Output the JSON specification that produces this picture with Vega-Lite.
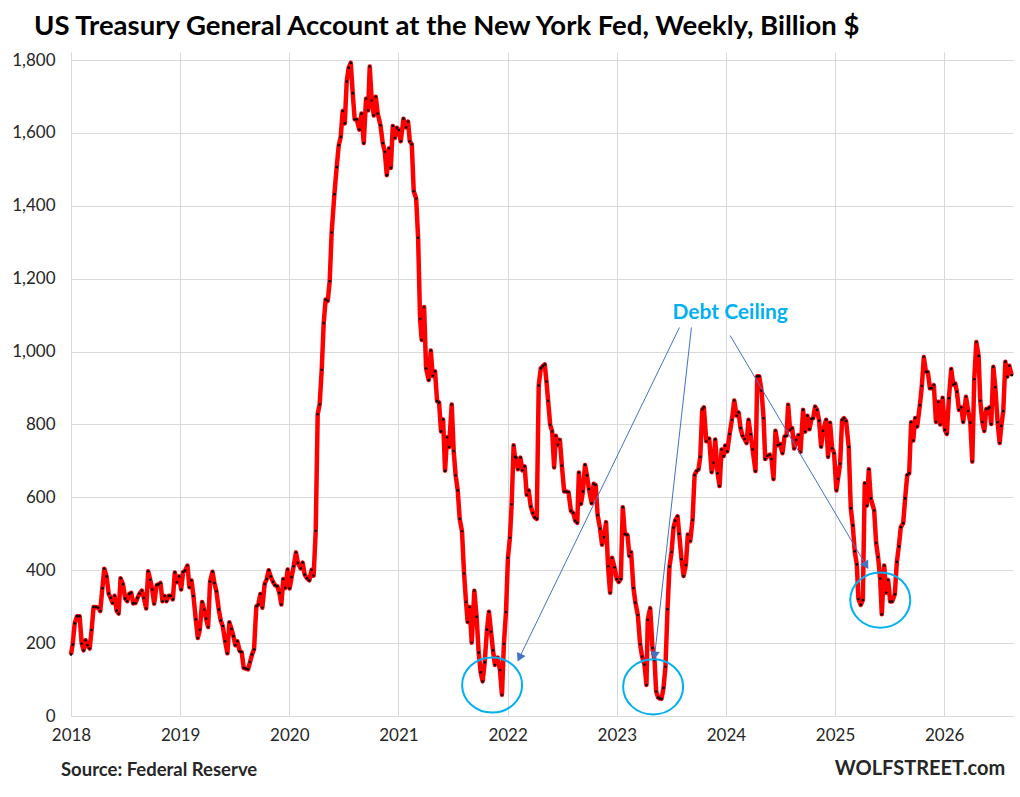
{
  "$schema": "https://vega.github.io/schema/vega-lite/v6.json",
  "background": "white",
  "width": 942,
  "height": 664,
  "autosize": {"type": "none"},
  "padding": {"left": 71, "top": 52, "right": 7, "bottom": 81},
  "title": {
    "text": "US Treasury General Account at the New York Fed, Weekly, Billion $",
    "anchor": "start",
    "frame": "group",
    "dx": -37,
    "offset": 11,
    "font": "Lato",
    "fontSize": 27.5,
    "fontWeight": "bold",
    "color": "#000000"
  },
  "datasets": {
    "tga": [
      {"year": 2018.000, "value": 169}, {"year": 2018.015, "value": 196}, {"year": 2018.034, "value": 254}, {"year": 2018.055, "value": 274},
      {"year": 2018.079, "value": 274}, {"year": 2018.098, "value": 199}, {"year": 2018.116, "value": 180}, {"year": 2018.134, "value": 208},
      {"year": 2018.152, "value": 194}, {"year": 2018.171, "value": 185}, {"year": 2018.189, "value": 236}, {"year": 2018.207, "value": 299},
      {"year": 2018.229, "value": 299}, {"year": 2018.250, "value": 297}, {"year": 2018.268, "value": 288}, {"year": 2018.287, "value": 350},
      {"year": 2018.305, "value": 404}, {"year": 2018.326, "value": 383}, {"year": 2018.345, "value": 336}, {"year": 2018.363, "value": 324},
      {"year": 2018.381, "value": 310}, {"year": 2018.399, "value": 330}, {"year": 2018.418, "value": 289}, {"year": 2018.436, "value": 281},
      {"year": 2018.454, "value": 378}, {"year": 2018.476, "value": 362}, {"year": 2018.497, "value": 322}, {"year": 2018.515, "value": 315},
      {"year": 2018.534, "value": 335}, {"year": 2018.552, "value": 338}, {"year": 2018.570, "value": 309}, {"year": 2018.591, "value": 310},
      {"year": 2018.610, "value": 324}, {"year": 2018.628, "value": 336}, {"year": 2018.649, "value": 344}, {"year": 2018.668, "value": 324},
      {"year": 2018.689, "value": 295}, {"year": 2018.707, "value": 397}, {"year": 2018.726, "value": 374}, {"year": 2018.744, "value": 347},
      {"year": 2018.762, "value": 308}, {"year": 2018.784, "value": 359}, {"year": 2018.802, "value": 361}, {"year": 2018.820, "value": 365},
      {"year": 2018.838, "value": 315}, {"year": 2018.857, "value": 329}, {"year": 2018.875, "value": 315}, {"year": 2018.896, "value": 330},
      {"year": 2018.915, "value": 330}, {"year": 2018.933, "value": 320}, {"year": 2018.951, "value": 394}, {"year": 2018.970, "value": 367},
      {"year": 2018.991, "value": 383}, {"year": 2019.009, "value": 347}, {"year": 2019.027, "value": 395}, {"year": 2019.046, "value": 399},
      {"year": 2019.067, "value": 413}, {"year": 2019.085, "value": 353}, {"year": 2019.104, "value": 372}, {"year": 2019.122, "value": 329},
      {"year": 2019.143, "value": 265}, {"year": 2019.162, "value": 214}, {"year": 2019.180, "value": 237}, {"year": 2019.201, "value": 313},
      {"year": 2019.220, "value": 292}, {"year": 2019.238, "value": 267}, {"year": 2019.256, "value": 244}, {"year": 2019.274, "value": 369},
      {"year": 2019.296, "value": 396}, {"year": 2019.314, "value": 365}, {"year": 2019.332, "value": 342}, {"year": 2019.354, "value": 292},
      {"year": 2019.372, "value": 262}, {"year": 2019.390, "value": 247}, {"year": 2019.412, "value": 205}, {"year": 2019.433, "value": 172},
      {"year": 2019.451, "value": 257}, {"year": 2019.470, "value": 239}, {"year": 2019.488, "value": 219}, {"year": 2019.506, "value": 194},
      {"year": 2019.524, "value": 205}, {"year": 2019.546, "value": 178}, {"year": 2019.564, "value": 175}, {"year": 2019.582, "value": 132},
      {"year": 2019.601, "value": 130}, {"year": 2019.622, "value": 128}, {"year": 2019.640, "value": 148}, {"year": 2019.659, "value": 169},
      {"year": 2019.677, "value": 183}, {"year": 2019.698, "value": 301}, {"year": 2019.716, "value": 306}, {"year": 2019.735, "value": 335},
      {"year": 2019.753, "value": 297}, {"year": 2019.774, "value": 362}, {"year": 2019.793, "value": 376}, {"year": 2019.811, "value": 400},
      {"year": 2019.829, "value": 383}, {"year": 2019.851, "value": 368}, {"year": 2019.869, "value": 359}, {"year": 2019.890, "value": 356},
      {"year": 2019.909, "value": 338}, {"year": 2019.927, "value": 306}, {"year": 2019.945, "value": 376}, {"year": 2019.963, "value": 351},
      {"year": 2019.985, "value": 402}, {"year": 2020.003, "value": 350}, {"year": 2020.021, "value": 381}, {"year": 2020.040, "value": 411},
      {"year": 2020.061, "value": 449}, {"year": 2020.079, "value": 420}, {"year": 2020.104, "value": 405}, {"year": 2020.122, "value": 421},
      {"year": 2020.141, "value": 388}, {"year": 2020.162, "value": 378}, {"year": 2020.183, "value": 372}, {"year": 2020.205, "value": 401},
      {"year": 2020.223, "value": 385}, {"year": 2020.242, "value": 508}, {"year": 2020.260, "value": 828}, {"year": 2020.278, "value": 855},
      {"year": 2020.297, "value": 950}, {"year": 2020.315, "value": 1078}, {"year": 2020.333, "value": 1143}, {"year": 2020.352, "value": 1139},
      {"year": 2020.370, "value": 1193}, {"year": 2020.388, "value": 1327}, {"year": 2020.413, "value": 1432}, {"year": 2020.434, "value": 1506},
      {"year": 2020.453, "value": 1566}, {"year": 2020.471, "value": 1589}, {"year": 2020.489, "value": 1660}, {"year": 2020.508, "value": 1626},
      {"year": 2020.526, "value": 1741}, {"year": 2020.544, "value": 1779}, {"year": 2020.563, "value": 1792}, {"year": 2020.581, "value": 1709},
      {"year": 2020.599, "value": 1637}, {"year": 2020.618, "value": 1637}, {"year": 2020.642, "value": 1609}, {"year": 2020.661, "value": 1653},
      {"year": 2020.682, "value": 1572}, {"year": 2020.703, "value": 1694}, {"year": 2020.722, "value": 1662}, {"year": 2020.737, "value": 1782},
      {"year": 2020.755, "value": 1689}, {"year": 2020.774, "value": 1648}, {"year": 2020.792, "value": 1699}, {"year": 2020.810, "value": 1653},
      {"year": 2020.835, "value": 1621}, {"year": 2020.856, "value": 1572}, {"year": 2020.875, "value": 1548}, {"year": 2020.893, "value": 1484},
      {"year": 2020.914, "value": 1558}, {"year": 2020.930, "value": 1504}, {"year": 2020.948, "value": 1619}, {"year": 2020.966, "value": 1586},
      {"year": 2020.985, "value": 1614}, {"year": 2021.003, "value": 1608}, {"year": 2021.021, "value": 1577}, {"year": 2021.046, "value": 1639},
      {"year": 2021.070, "value": 1615}, {"year": 2021.088, "value": 1631}, {"year": 2021.104, "value": 1577}, {"year": 2021.122, "value": 1569},
      {"year": 2021.140, "value": 1440}, {"year": 2021.162, "value": 1420}, {"year": 2021.180, "value": 1312}, {"year": 2021.198, "value": 1090},
      {"year": 2021.213, "value": 1032}, {"year": 2021.235, "value": 1122}, {"year": 2021.253, "value": 954}, {"year": 2021.277, "value": 922},
      {"year": 2021.296, "value": 1003}, {"year": 2021.314, "value": 933}, {"year": 2021.335, "value": 946}, {"year": 2021.354, "value": 864},
      {"year": 2021.372, "value": 860}, {"year": 2021.390, "value": 781}, {"year": 2021.409, "value": 814}, {"year": 2021.427, "value": 673},
      {"year": 2021.445, "value": 765}, {"year": 2021.463, "value": 738}, {"year": 2021.488, "value": 855}, {"year": 2021.506, "value": 727},
      {"year": 2021.524, "value": 660}, {"year": 2021.543, "value": 619}, {"year": 2021.561, "value": 541}, {"year": 2021.582, "value": 507},
      {"year": 2021.601, "value": 391}, {"year": 2021.619, "value": 313}, {"year": 2021.634, "value": 258}, {"year": 2021.652, "value": 299},
      {"year": 2021.671, "value": 201}, {"year": 2021.695, "value": 344}, {"year": 2021.716, "value": 272}, {"year": 2021.735, "value": 174},
      {"year": 2021.753, "value": 120}, {"year": 2021.771, "value": 95}, {"year": 2021.790, "value": 147}, {"year": 2021.811, "value": 237},
      {"year": 2021.829, "value": 286}, {"year": 2021.848, "value": 231}, {"year": 2021.866, "value": 180}, {"year": 2021.884, "value": 140},
      {"year": 2021.909, "value": 160}, {"year": 2021.930, "value": 126}, {"year": 2021.948, "value": 58}, {"year": 2021.966, "value": 198},
      {"year": 2021.985, "value": 285}, {"year": 2022.003, "value": 434}, {"year": 2022.021, "value": 489}, {"year": 2022.037, "value": 581},
      {"year": 2022.055, "value": 743}, {"year": 2022.067, "value": 711}, {"year": 2022.077, "value": 709}, {"year": 2022.095, "value": 677},
      {"year": 2022.117, "value": 709}, {"year": 2022.135, "value": 674}, {"year": 2022.156, "value": 685}, {"year": 2022.175, "value": 607},
      {"year": 2022.193, "value": 619}, {"year": 2022.212, "value": 575}, {"year": 2022.230, "value": 557}, {"year": 2022.248, "value": 545},
      {"year": 2022.267, "value": 541}, {"year": 2022.285, "value": 907}, {"year": 2022.304, "value": 954}, {"year": 2022.322, "value": 960},
      {"year": 2022.340, "value": 965}, {"year": 2022.356, "value": 918}, {"year": 2022.371, "value": 865}, {"year": 2022.390, "value": 799},
      {"year": 2022.408, "value": 781}, {"year": 2022.426, "value": 682}, {"year": 2022.442, "value": 769}, {"year": 2022.460, "value": 744},
      {"year": 2022.479, "value": 758}, {"year": 2022.497, "value": 687}, {"year": 2022.518, "value": 616}, {"year": 2022.537, "value": 616},
      {"year": 2022.558, "value": 614}, {"year": 2022.580, "value": 563}, {"year": 2022.601, "value": 557}, {"year": 2022.620, "value": 536},
      {"year": 2022.638, "value": 530}, {"year": 2022.653, "value": 668}, {"year": 2022.672, "value": 582}, {"year": 2022.690, "value": 616},
      {"year": 2022.709, "value": 689}, {"year": 2022.727, "value": 660}, {"year": 2022.745, "value": 623}, {"year": 2022.770, "value": 584},
      {"year": 2022.788, "value": 637}, {"year": 2022.807, "value": 634}, {"year": 2022.825, "value": 551}, {"year": 2022.847, "value": 514},
      {"year": 2022.865, "value": 470}, {"year": 2022.883, "value": 490}, {"year": 2022.902, "value": 532}, {"year": 2022.920, "value": 411},
      {"year": 2022.939, "value": 338}, {"year": 2022.957, "value": 434}, {"year": 2022.979, "value": 408}, {"year": 2023.000, "value": 376},
      {"year": 2023.018, "value": 368}, {"year": 2023.037, "value": 376}, {"year": 2023.055, "value": 573}, {"year": 2023.074, "value": 499},
      {"year": 2023.098, "value": 497}, {"year": 2023.116, "value": 439}, {"year": 2023.131, "value": 450}, {"year": 2023.153, "value": 351},
      {"year": 2023.171, "value": 311}, {"year": 2023.193, "value": 277}, {"year": 2023.214, "value": 197}, {"year": 2023.232, "value": 163},
      {"year": 2023.254, "value": 141}, {"year": 2023.272, "value": 85}, {"year": 2023.284, "value": 264}, {"year": 2023.306, "value": 296},
      {"year": 2023.327, "value": 187}, {"year": 2023.346, "value": 153}, {"year": 2023.361, "value": 67}, {"year": 2023.379, "value": 51},
      {"year": 2023.394, "value": 48}, {"year": 2023.410, "value": 47}, {"year": 2023.428, "value": 77}, {"year": 2023.446, "value": 135},
      {"year": 2023.465, "value": 293}, {"year": 2023.483, "value": 410}, {"year": 2023.502, "value": 450}, {"year": 2023.520, "value": 517},
      {"year": 2023.535, "value": 536}, {"year": 2023.557, "value": 548}, {"year": 2023.572, "value": 500}, {"year": 2023.593, "value": 430},
      {"year": 2023.612, "value": 384}, {"year": 2023.633, "value": 414}, {"year": 2023.651, "value": 498}, {"year": 2023.673, "value": 480},
      {"year": 2023.694, "value": 538}, {"year": 2023.713, "value": 661}, {"year": 2023.731, "value": 672}, {"year": 2023.749, "value": 677},
      {"year": 2023.765, "value": 711}, {"year": 2023.783, "value": 841}, {"year": 2023.798, "value": 847}, {"year": 2023.820, "value": 754},
      {"year": 2023.847, "value": 761}, {"year": 2023.869, "value": 669}, {"year": 2023.887, "value": 695}, {"year": 2023.902, "value": 759},
      {"year": 2023.924, "value": 666}, {"year": 2023.942, "value": 631}, {"year": 2023.960, "value": 731}, {"year": 2023.979, "value": 713},
      {"year": 2023.994, "value": 742}, {"year": 2024.012, "value": 726}, {"year": 2024.034, "value": 774}, {"year": 2024.055, "value": 813},
      {"year": 2024.076, "value": 866}, {"year": 2024.098, "value": 824}, {"year": 2024.116, "value": 833}, {"year": 2024.134, "value": 790},
      {"year": 2024.152, "value": 769}, {"year": 2024.171, "value": 760}, {"year": 2024.189, "value": 749}, {"year": 2024.207, "value": 813},
      {"year": 2024.226, "value": 773}, {"year": 2024.244, "value": 732}, {"year": 2024.271, "value": 672}, {"year": 2024.287, "value": 932},
      {"year": 2024.305, "value": 932}, {"year": 2024.326, "value": 893}, {"year": 2024.345, "value": 817}, {"year": 2024.360, "value": 705},
      {"year": 2024.381, "value": 714}, {"year": 2024.402, "value": 717}, {"year": 2024.418, "value": 705}, {"year": 2024.436, "value": 650},
      {"year": 2024.454, "value": 783}, {"year": 2024.476, "value": 743}, {"year": 2024.497, "value": 746}, {"year": 2024.518, "value": 721},
      {"year": 2024.537, "value": 767}, {"year": 2024.555, "value": 769}, {"year": 2024.570, "value": 854}, {"year": 2024.588, "value": 785},
      {"year": 2024.607, "value": 790}, {"year": 2024.625, "value": 734}, {"year": 2024.643, "value": 757}, {"year": 2024.665, "value": 771},
      {"year": 2024.683, "value": 725}, {"year": 2024.707, "value": 840}, {"year": 2024.726, "value": 780}, {"year": 2024.747, "value": 824},
      {"year": 2024.765, "value": 787}, {"year": 2024.784, "value": 815}, {"year": 2024.799, "value": 817}, {"year": 2024.817, "value": 849},
      {"year": 2024.835, "value": 840}, {"year": 2024.854, "value": 810}, {"year": 2024.872, "value": 739}, {"year": 2024.890, "value": 783},
      {"year": 2024.918, "value": 813}, {"year": 2024.936, "value": 711}, {"year": 2024.954, "value": 805}, {"year": 2024.973, "value": 735},
      {"year": 2024.991, "value": 721}, {"year": 2025.012, "value": 619}, {"year": 2025.027, "value": 651}, {"year": 2025.046, "value": 692},
      {"year": 2025.064, "value": 812}, {"year": 2025.082, "value": 817}, {"year": 2025.101, "value": 809}, {"year": 2025.125, "value": 738},
      {"year": 2025.144, "value": 570}, {"year": 2025.162, "value": 523}, {"year": 2025.180, "value": 452}, {"year": 2025.199, "value": 416},
      {"year": 2025.214, "value": 321}, {"year": 2025.235, "value": 305}, {"year": 2025.254, "value": 318}, {"year": 2025.272, "value": 639},
      {"year": 2025.291, "value": 577}, {"year": 2025.309, "value": 677}, {"year": 2025.327, "value": 597}, {"year": 2025.358, "value": 564},
      {"year": 2025.376, "value": 475}, {"year": 2025.394, "value": 436}, {"year": 2025.413, "value": 377}, {"year": 2025.428, "value": 279},
      {"year": 2025.450, "value": 413}, {"year": 2025.468, "value": 338}, {"year": 2025.486, "value": 373}, {"year": 2025.505, "value": 314},
      {"year": 2025.523, "value": 314}, {"year": 2025.547, "value": 334}, {"year": 2025.566, "value": 423}, {"year": 2025.584, "value": 465},
      {"year": 2025.602, "value": 518}, {"year": 2025.624, "value": 529}, {"year": 2025.642, "value": 597}, {"year": 2025.661, "value": 661},
      {"year": 2025.679, "value": 666}, {"year": 2025.697, "value": 806}, {"year": 2025.716, "value": 756}, {"year": 2025.734, "value": 818},
      {"year": 2025.752, "value": 794}, {"year": 2025.777, "value": 853}, {"year": 2025.795, "value": 906}, {"year": 2025.813, "value": 985},
      {"year": 2025.832, "value": 945}, {"year": 2025.850, "value": 944}, {"year": 2025.869, "value": 899}, {"year": 2025.887, "value": 899},
      {"year": 2025.905, "value": 908}, {"year": 2025.924, "value": 807}, {"year": 2025.945, "value": 862}, {"year": 2025.963, "value": 800},
      {"year": 2025.985, "value": 873}, {"year": 2026.006, "value": 785}, {"year": 2026.024, "value": 774}, {"year": 2026.043, "value": 872},
      {"year": 2026.064, "value": 952}, {"year": 2026.083, "value": 909}, {"year": 2026.101, "value": 912}, {"year": 2026.116, "value": 890},
      {"year": 2026.135, "value": 840}, {"year": 2026.156, "value": 847}, {"year": 2026.174, "value": 807}, {"year": 2026.199, "value": 876},
      {"year": 2026.220, "value": 837}, {"year": 2026.239, "value": 805}, {"year": 2026.257, "value": 698}, {"year": 2026.275, "value": 924},
      {"year": 2026.294, "value": 1026}, {"year": 2026.315, "value": 988}, {"year": 2026.330, "value": 865}, {"year": 2026.349, "value": 807},
      {"year": 2026.367, "value": 782}, {"year": 2026.385, "value": 842}, {"year": 2026.404, "value": 844}, {"year": 2026.416, "value": 847},
      {"year": 2026.431, "value": 801}, {"year": 2026.450, "value": 958}, {"year": 2026.468, "value": 902}, {"year": 2026.489, "value": 806},
      {"year": 2026.508, "value": 749}, {"year": 2026.523, "value": 796}, {"year": 2026.541, "value": 837}, {"year": 2026.560, "value": 972},
      {"year": 2026.578, "value": 931}, {"year": 2026.596, "value": 961}, {"year": 2026.618, "value": 935}
    ],
    "circles": [
      {"year": 2021.858, "value": 85},
      {"year": 2023.333, "value": 80},
      {"year": 2025.414, "value": 318}
    ],
    "arrows": [
      {"id": "a", "year": 2023.574, "value": 1066, "year2": 2022.108, "value2": 160},
      {"id": "b", "year": 2023.684, "value": 1066, "year2": 2023.347, "value2": 166},
      {"id": "c", "year": 2024.039, "value": 1044, "year2": 2025.285, "value2": 413}
    ]
  },
  "encoding": {
    "x": {
      "field": "year",
      "type": "quantitative",
      "scale": {"domain": [2018, 2026.63], "nice": false, "zero": false},
      "axis": {
        "values": [2018, 2019, 2020, 2021, 2022, 2023, 2024, 2025, 2026],
        "format": "d",
        "title": null,
        "grid": true,
        "gridColor": "#d9d9d9",
        "ticks": false,
        "domain": false,
        "labelFlush": false,
        "labelFont": "Lato",
        "labelFontSize": 17,
        "labelColor": "#262626",
        "labelPadding": 11
      }
    },
    "y": {
      "field": "value",
      "type": "quantitative",
      "scale": {"domain": [0, 1822], "nice": false},
      "axis": {
        "values": [0, 200, 400, 600, 800, 1000, 1200, 1400, 1600, 1800],
        "format": ",.0f",
        "title": null,
        "grid": true,
        "gridColor": "#d9d9d9",
        "ticks": false,
        "domain": false,
        "labelFlush": false,
        "labelFont": "Lato",
        "labelFontSize": 17,
        "labelColor": "#262626",
        "labelPadding": 16
      }
    }
  },
  "layer": [
    {
      "data": {"name": "tga"},
      "mark": {"type": "line", "color": "#ff0000", "strokeWidth": 4.5, "strokeJoin": "round"}
    },
    {
      "data": {"name": "tga"},
      "mark": {"type": "point", "filled": true, "color": "#000000", "size": 7, "opacity": 1}
    },
    {
      "data": {"name": "circles"},
      "mark": {
        "type": "point",
        "shape": "M -1 0 A 1 0.92 0 1 1 1 0 A 1 0.92 0 1 1 -1 0 Z",
        "size": 3600,
        "filled": false,
        "stroke": "#00b0f0",
        "strokeWidth": 2,
        "opacity": 1
      }
    },
    {
      "data": {"name": "arrows"},
      "mark": {"type": "rule", "color": "#4472c4", "strokeWidth": 1},
      "encoding": {
        "x2": {"field": "year2"},
        "y2": {"field": "value2"}
      }
    },
    {
      "data": {"name": "arrows"},
      "transform": [{"filter": "datum.id == 'a'"}],
      "mark": {"type": "point", "shape": "triangle-up", "filled": true, "color": "#4472c4", "size": 90, "angle": 206, "opacity": 1},
      "encoding": {
        "x": {"field": "year2", "type": "quantitative"},
        "y": {"field": "value2", "type": "quantitative"}
      }
    },
    {
      "data": {"name": "arrows"},
      "transform": [{"filter": "datum.id == 'b'"}],
      "mark": {"type": "point", "shape": "triangle-up", "filled": true, "color": "#4472c4", "size": 90, "angle": 186, "opacity": 1},
      "encoding": {
        "x": {"field": "year2", "type": "quantitative"},
        "y": {"field": "value2", "type": "quantitative"}
      }
    },
    {
      "data": {"name": "arrows"},
      "transform": [{"filter": "datum.id == 'c'"}],
      "mark": {"type": "point", "shape": "triangle-up", "filled": true, "color": "#4472c4", "size": 90, "angle": 149, "opacity": 1},
      "encoding": {
        "x": {"field": "year2", "type": "quantitative"},
        "y": {"field": "value2", "type": "quantitative"}
      }
    },
    {
      "data": {"values": [{"year": 2024.039, "value": 1106, "label": "Debt Ceiling"}]},
      "mark": {"type": "text", "font": "Lato", "fontSize": 21, "fontWeight": "bold", "color": "#00b0f0", "align": "center", "baseline": "middle"},
      "encoding": {"text": {"field": "label"}}
    },
    {
      "data": {"values": [{"year": 2017.908, "value": -148, "label": "Source: Federal Reserve"}]},
      "mark": {"type": "text", "font": "Lato", "fontSize": 18.5, "fontWeight": "bold", "color": "#262626", "align": "left", "baseline": "middle"},
      "encoding": {"text": {"field": "label"}}
    },
    {
      "data": {"values": [{"year": 2026.559, "value": -145, "label": "WOLFSTREET.com"}]},
      "mark": {"type": "text", "font": "Lato", "fontSize": 20, "fontWeight": "bold", "color": "#262626", "align": "right", "baseline": "middle"},
      "encoding": {"text": {"field": "label"}}
    }
  ],
  "config": {
    "view": {"stroke": null},
    "font": "Lato"
  }
}
